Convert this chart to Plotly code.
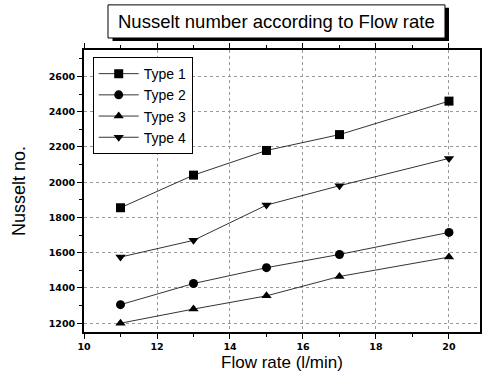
import plotly.graph_objects as go

flow_rate = [11, 13, 15, 17, 20]
type1 = [1855, 2040, 2180, 2270, 2460]
type2 = [1305, 1425, 1515, 1590, 1715]
type3 = [1200, 1280, 1355, 1465, 1575]
type4 = [1575, 1670, 1870, 1980, 2135]
series_names = ["Type 1", "Type 2", "Type 3", "Type 4"]
series_values = [type1, type2, type3, type4]
symbols = ["square", "circle", "triangle-up", "triangle-down"]

fig = go.Figure()
for name, vals, sym in zip(series_names, series_values, symbols):
    fig.add_trace(go.Scatter(
        x=flow_rate, y=vals, name=name, mode="lines+markers",
        line=dict(color="black", width=0.8),
        marker=dict(symbol=sym, size=9, color="black"),
    ))

axis_common = dict(
    showline=True, linecolor="black", linewidth=1.8, mirror="ticks",
    ticks="outside", ticklen=5, tickwidth=1, tickcolor="black",
    showgrid=True, gridcolor="#999999", griddash="dot", gridwidth=1,
    zeroline=False,
    tickfont=dict(family="DejaVu Sans", size=9.5, color="black", weight="bold"),
    minor=dict(ticks="outside", ticklen=3, tickcolor="black", showgrid=False),
)

fig.update_xaxes(range=[10, 20.85], dtick=2, tick0=10,
                 minor_dtick=1,
                 title=dict(text="Flow rate (l/min)", font=dict(family="Liberation Sans", size=17, color="black"), standoff=5),
                 **axis_common)
fig.update_yaxes(range=[1150, 2750], dtick=200, tick0=1200,
                 minor_dtick=100,
                 title=dict(text="Nusselt no.", font=dict(family="Liberation Sans", size=18, color="black"), standoff=18),
                 **axis_common)

# title box with drop shadow
fig.add_shape(type="rect", xref="paper", yref="paper",
              x0=0.0720, x1=0.9217, y0=1.0320, y1=1.150,
              fillcolor="black", line=dict(width=0), layer="above")
fig.add_shape(type="rect", xref="paper", yref="paper",
              x0=0.0606, x1=0.9116, y0=1.0426, y1=1.160,
              fillcolor="white", line=dict(color="black", width=1), layer="above")
fig.add_annotation(text="Nusselt number according to Flow rate", xref="paper", yref="paper",
                   x=0.487, y=1.101, xanchor="center", yanchor="middle", showarrow=False,
                   font=dict(family="Liberation Sans", size=18.5, color="black"))

fig.update_layout(
    width=482, height=379, autosize=False,
    margin=dict(l=84, r=2, t=50, b=47, autoexpand=False),
    paper_bgcolor="white", plot_bgcolor="white",
    showlegend=True,
    legend=dict(x=0.022, y=0.975, xanchor="left", yanchor="top",
                bgcolor="white", bordercolor="black", borderwidth=1,
                font=dict(family="Liberation Sans", size=14, color="black"),
                itemwidth=40, tracegroupgap=0),
)

fig.write_html("out.html", config={"displayModeBar": False, "responsive": False},
               post_script="document.body.style.margin='0';")
